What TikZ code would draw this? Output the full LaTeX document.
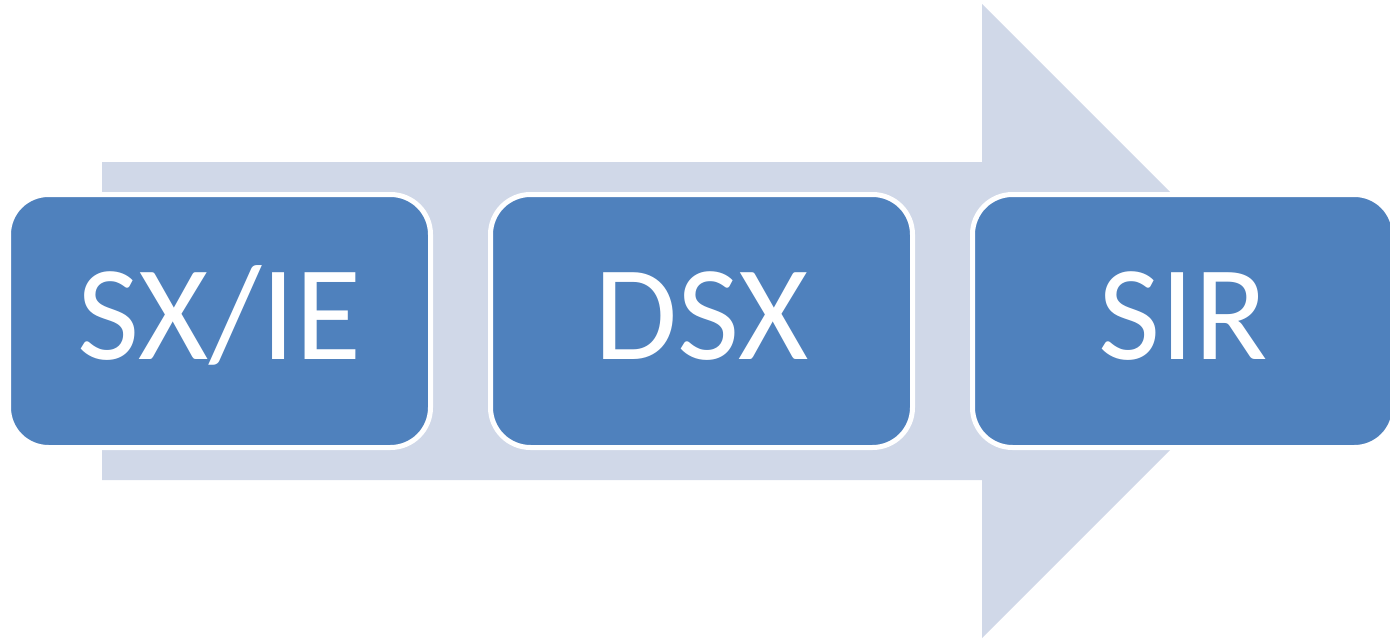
\documentclass[tikz,border=0pt]{standalone}
\usepackage{fontspec}
\setmainfont{Carlito}
\usetikzlibrary{positioning}
\definecolor{stepblue}{HTML}{4F81BD}
\definecolor{arrowgrey}{HTML}{D0D8E8}
\tikzset{
  stage/.style={rectangle, rounded corners=0.4cm, fill=stepblue, draw=white,
    line width=0.05cm, outer sep=0pt, minimum width=4.22cm, minimum height=2.53cm,
    text height=0.85cm, text depth=0.09cm,
    text=white, font=\fontsize{38.5pt}{46pt}\selectfont},
}
\begin{document}
\begin{tikzpicture}[node distance=0.6cm]
    \useasboundingbox (0,0) rectangle (13.9,6.4);
    %% big arrow behind the stages
    \fill[arrowgrey] (1.02,4.78) -- (9.82,4.78) -- (9.82,6.36) -- (12.99,3.19)
        -- (9.82,0.02) -- (9.82,1.60) -- (1.02,1.60) -- cycle;
    %% the three stages
    \node[stage] (sxie) at (2.195,3.19) {SX/IE};
    \node[stage, right=of sxie] (dsx) {DSX};
    \node[stage, right=of dsx] (sir) {SIR};
\end{tikzpicture}
\end{document}
